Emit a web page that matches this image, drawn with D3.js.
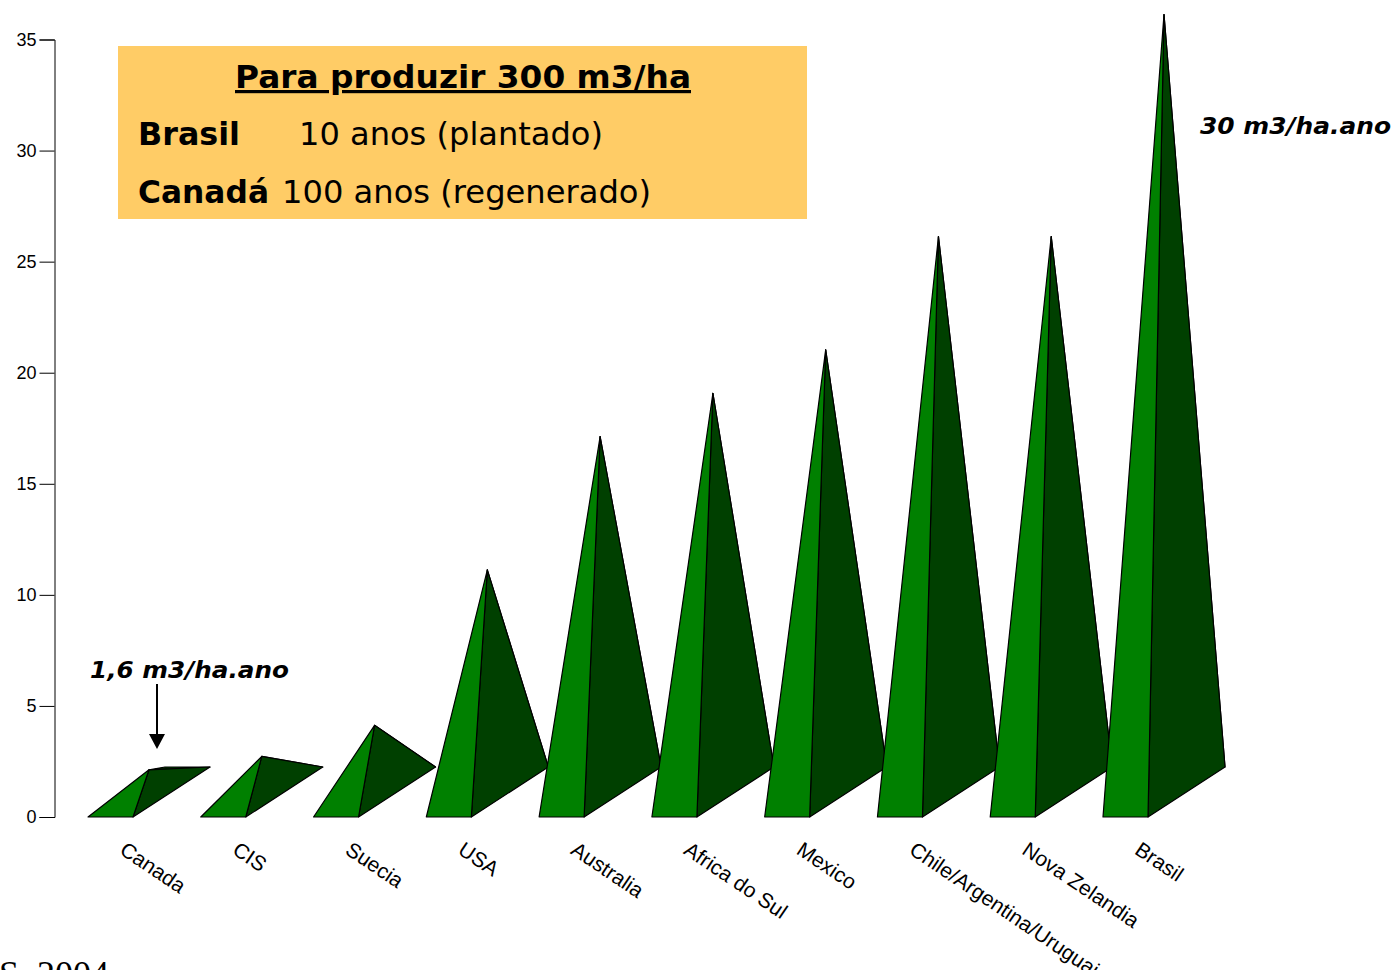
<!DOCTYPE html>
<html><head><meta charset="utf-8">
<style>html,body{margin:0;padding:0;background:#fff;overflow:hidden}svg{display:block}</style>
<script src="https://cdn.jsdelivr.net/npm/d3@7/dist/d3.min.js"></script>
</head><body><div id="c"></div>
<script>
const categories = ["Canada","CIS","Suecia","USA","Australia","Africa do Sul","Mexico","Chile/Argentina/Uruguai","Nova Zelandia","Brasil"];
const values = [1,1.6,3,10,16,17.95,19.9,25,25,35];
const yTicks = [0,5,10,15,20,25,30,35];
const W = 1395, H = 970;
const svg = d3.select("#c").append("svg").attr("width",W).attr("height",H);
const y = d3.scaleLinear().domain([0,35]).range([817,39.5]);
const x = d3.scalePoint().domain(categories).range([88,1103]);
const baseW = 45, depthX = 77, depthY = 50;

// info box
svg.append("rect").attr("x",118).attr("y",46).attr("width",689).attr("height",173).attr("fill","#FFCC66");
const boxFont = "'DejaVu Sans',Verdana,sans-serif";
function boxText(tx,ty,bold,len,s){
  return svg.append("text").attr("x",tx).attr("y",ty).attr("font-family",boxFont).attr("font-size",32)
    .attr("font-weight",bold?"bold":"normal").attr("textLength",len).attr("lengthAdjust","spacingAndGlyphs").text(s);
}
boxText(235,88,true,456,"Para produzir 300 m3/ha").attr("text-decoration","underline");
boxText(138,145,true,102,"Brasil");
boxText(299,145,false,304,"10 anos (plantado)");
boxText(138,203,true,131,"Canadá");
boxText(282,203,false,369,"100 anos (regenerado)");

// axis
const axis = d3.axisLeft(y).tickValues(yTicks).tickSize(15).tickPadding(3);
const gA = svg.append("g").attr("transform","translate(54.5,0)").call(axis);
gA.select(".domain").attr("stroke","#000").attr("stroke-width",1);
gA.selectAll(".tick line").attr("stroke","#000");
gA.selectAll("text").attr("font-family","'Liberation Sans',Arial,sans-serif").attr("font-size",18).attr("fill","#000");

// pyramids
const line = d3.line();
const g = svg.append("g").attr("stroke","#000").attr("stroke-width",1.2).attr("stroke-linejoin","round");
categories.forEach((c,i)=>{
  const v = values[i], x0 = x(c), y0 = y(0);
  const FL=[x0,y0], FR=[x0+baseW,y0], BR=[x0+baseW+depthX,y0-depthY], BL=[x0+depthX,y0-depthY];
  const apex=[x0+(baseW+depthX)/2, y(v)-depthY/2];
  g.append("path").attr("d",line([BL,BR,apex])+"Z").attr("fill","#004000");
  g.append("path").attr("d",line([FR,BR,apex])+"Z").attr("fill","#004000");
  g.append("path").attr("d",line([FL,FR,apex])+"Z").attr("fill","#008000");
  svg.append("text").attr("transform",`translate(${x0+30.5},853) rotate(34)`)
    .attr("font-family","'Liberation Sans',Arial,sans-serif").attr("font-size",21).attr("fill","#000").text(c);
});

// annotations
const noteFont = "'DejaVu Sans',Verdana,sans-serif";
function note(tx,ty,len,s){
  svg.append("text").attr("x",tx).attr("y",ty).attr("font-family",noteFont).attr("font-size",23)
    .attr("font-weight","bold").attr("font-style","italic").attr("textLength",len).attr("lengthAdjust","spacingAndGlyphs").text(s);
}
note(90,678,199,"1,6 m3/ha.ano");
note(1200,134,191,"30 m3/ha.ano");
svg.append("line").attr("x1",157).attr("x2",157).attr("y1",684).attr("y2",736).attr("stroke","#000").attr("stroke-width",2);
svg.append("path").attr("d",line([[149,734],[165,734],[157,749]])+"Z").attr("fill","#000");

// clipped source note
svg.append("text").attr("x",-1).attr("y",986).attr("font-family","'Liberation Serif','Times New Roman',serif").attr("font-size",36).attr("fill","#000").text("S, 2004");
</script></body></html>
